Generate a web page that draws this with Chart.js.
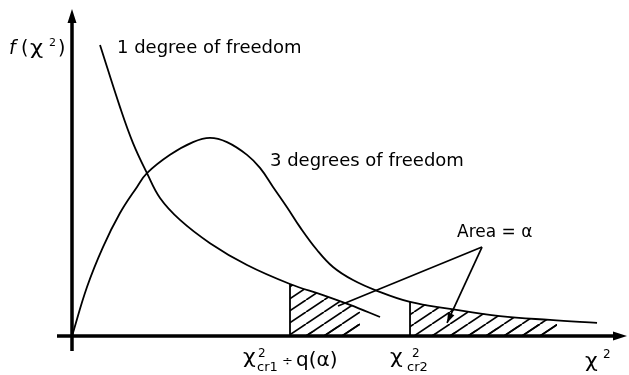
<!DOCTYPE html>
<html>
<head>
<meta charset="utf-8">
<script src="https://cdn.jsdelivr.net/npm/chart.js@4.4.1/dist/chart.umd.min.js"></script>
<style>
  html, body { margin: 0; padding: 0; background: #fff; }
  #wrap { width: 629px; height: 375px; }
</style>
</head>
<body>
<div id="wrap"><canvas id="chiSquare" width="629" height="375"></canvas></div>
<script>
// chi-square density sketches, [chi2, f(chi2)]
var oneDegree = [
  [0.708, 0.890], [1.213, 0.700], [1.542, 0.590], [1.895, 0.498],
  [2.224, 0.422], [2.729, 0.355], [3.487, 0.284], [4.423, 0.217],
  [5.509, 0.159], [6.343, 0.125], [7.026, 0.095], [7.784, 0.058]
];
var threeDegrees = [
  [0, 0], [0.379, 0.150], [0.783, 0.272], [1.213, 0.376], [1.643, 0.456],
  [1.895, 0.498], [2.477, 0.554], [3.058, 0.593], [3.487, 0.606],
  [3.917, 0.593], [4.423, 0.554], [4.751, 0.514], [5.080, 0.456],
  [5.433, 0.394], [5.762, 0.333], [6.192, 0.263], [6.596, 0.211],
  [7.101, 0.171], [7.708, 0.138], [8.542, 0.104], [9.553, 0.083],
  [10.816, 0.061], [12.080, 0.049], [13.268, 0.040]
];

// critical values and the hatched tails (area = alpha)
var critOne = 5.509;
var critTwo = 8.542;
var tailOne = [
  [5.509, 0.159], [6.343, 0.125], [7.026, 0.095], [7.784, 0.058], [7.278, 0]
];
var tailThree = [
  [8.542, 0.104], [9.553, 0.083], [10.816, 0.061], [12.080, 0.049],
  [12.510, 0.046], [12.257, 0]
];

// "Area = alpha" pointer lines
var pointerFrom = [10.361, 0.272];
var pointerTo = [[6.722, 0.092], [9.477, 0.040]];

var xy = function(arr) {
  return arr.map(function(p) { return { x: p[0], y: p[1] }; });
};

var hatch = function() {
  var w = 18, h = 12;
  var c = document.createElement('canvas');
  c.width = w; c.height = h;
  var g = c.getContext('2d');
  g.strokeStyle = '#000';
  g.lineWidth = 1.7;
  for (var k = 0; k <= 2; k++) {
    g.beginPath();
    g.moveTo(-w + k * w, h);
    g.lineTo(k * w, 0);
    g.stroke();
  }
  return g.createPattern(c, 'repeat');
};

var crossLine = function(x, top) {
  return [{ x: x, y: 0 }, { x: x, y: top }];
};

var axesPlugin = {
  id: 'axes',
  beforeDatasetsDraw: function(chart) {
    var ctx = chart.ctx, a = chart.chartArea;
    var x0 = chart.scales.x.getPixelForValue(0);
    var y0 = chart.scales.y.getPixelForValue(0);
    ctx.save();
    ctx.strokeStyle = '#000';
    ctx.fillStyle = '#000';
    ctx.lineWidth = 3.5;
    ctx.beginPath();
    ctx.moveTo(x0 - 15, y0);
    ctx.lineTo(a.right - 8, y0);
    ctx.moveTo(x0, y0 + 15);
    ctx.lineTo(x0, a.top + 8);
    ctx.stroke();
    // arrow heads
    ctx.beginPath();
    ctx.moveTo(a.right + 1, y0);
    ctx.lineTo(a.right - 13, y0 - 4.5);
    ctx.lineTo(a.right - 13, y0 + 4.5);
    ctx.closePath();
    ctx.moveTo(x0, a.top);
    ctx.lineTo(x0 - 4.5, a.top + 14);
    ctx.lineTo(x0 + 4.5, a.top + 14);
    ctx.closePath();
    ctx.fill();
    ctx.restore();
  }
};

var arrowPlugin = {
  id: 'arrowTips',
  afterDatasetsDraw: function(chart) {
    var ctx = chart.ctx;
    chart.data.datasets.forEach(function(ds, i) {
      if (!ds.arrow) return;
      var pts = chart.getDatasetMeta(i).data;
      var p = pts[pts.length - 1], q = pts[pts.length - 2];
      var ang = Math.atan2(p.y - q.y, p.x - q.x);
      ctx.save();
      ctx.translate(p.x, p.y);
      ctx.rotate(ang);
      ctx.beginPath();
      ctx.moveTo(0, 0);
      ctx.lineTo(-10, -3.5);
      ctx.lineTo(-10, 3.5);
      ctx.closePath();
      ctx.fillStyle = '#000';
      ctx.fill();
      ctx.restore();
    });
  }
};

var put = function(ctx, t, x, y, size, opts) {
  opts = opts || {};
  ctx.save();
  ctx.font = (opts.italic ? 'italic ' : '') + size + 'px "DejaVu Sans"';
  ctx.translate(x, y);
  if (opts.sx) ctx.scale(opts.sx, 1);
  ctx.fillText(t, 0, 0);
  ctx.restore();
};

var labelsPlugin = {
  id: 'labels',
  afterDatasetsDraw: function(chart) {
    var ctx = chart.ctx;
    ctx.save();
    ctx.fillStyle = '#000';
    ctx.textBaseline = 'alphabetic';

    // y axis title f(chi2)
    put(ctx, 'f', 9, 54, 19, { italic: true });
    put(ctx, '(', 21, 54, 19);
    put(ctx, 'χ', 30, 54, 19, { sx: 1.2 });
    put(ctx, '2', 49, 46, 11);
    put(ctx, ')', 58, 54, 19);

    put(ctx, '1 degree of freedom', 117, 53, 18);
    put(ctx, '3 degrees of freedom', 270, 166, 18);
    put(ctx, 'Area = α', 457, 237, 17);

    // critical values on the x axis
    put(ctx, 'χ', 243, 363, 20, { sx: 1.1 });
    put(ctx, '2', 258, 357, 12);
    put(ctx, 'cr1', 257, 371, 13);
    put(ctx, '÷', 282, 365, 13);
    put(ctx, 'q(α)', 296, 366, 20);

    put(ctx, 'χ', 390, 363, 20, { sx: 1.1 });
    put(ctx, '2', 412, 357, 12);
    put(ctx, 'cr2', 407, 371, 13);

    put(ctx, 'χ', 585, 367, 20, { sx: 1.1 });
    put(ctx, '2', 603, 358, 12);
    ctx.restore();
  }
};

var pattern = hatch();
var line = { borderColor: '#000', borderWidth: 1.8, pointRadius: 0, fill: false };

var datasets = [
  Object.assign({}, line, { label: '1 dof', data: xy(oneDegree), tension: 0.4 }),
  Object.assign({}, line, { label: '3 dof', data: xy(threeDegrees), tension: 0.4 }),
  Object.assign({}, line, { label: 'cr1', data: crossLine(critOne, tailOne[0][1]), tension: 0 }),
  Object.assign({}, line, { label: 'cr2', data: crossLine(critTwo, tailThree[0][1]), tension: 0 })
];
pointerTo.forEach(function(p, i) {
  datasets.push(Object.assign({}, line, {
    label: 'pointer' + i,
    data: xy([pointerFrom, p]),
    borderWidth: 1.7,
    tension: 0,
    arrow: i === 1
  }));
});
[tailOne, tailThree].forEach(function(t, i) {
  datasets.push({
    label: 'tail' + i,
    data: xy(t),
    borderWidth: 0,
    pointRadius: 0,
    tension: 0,
    fill: 'origin',
    backgroundColor: pattern
  });
});

new Chart(document.getElementById('chiSquare'), {
  type: 'line',
  data: { datasets: datasets },
  options: {
    responsive: false,
    animation: false,
    devicePixelRatio: 1,
    layout: { padding: { left: 72, right: 3, top: 9, bottom: 39 } },
    scales: {
      x: { type: 'linear', min: 0, max: 14, display: false },
      y: { min: 0, max: 1, display: false }
    },
    plugins: {
      legend: { display: false },
      tooltip: { enabled: false }
    }
  },
  plugins: [axesPlugin, arrowPlugin, labelsPlugin]
});
</script>
</body>
</html>
